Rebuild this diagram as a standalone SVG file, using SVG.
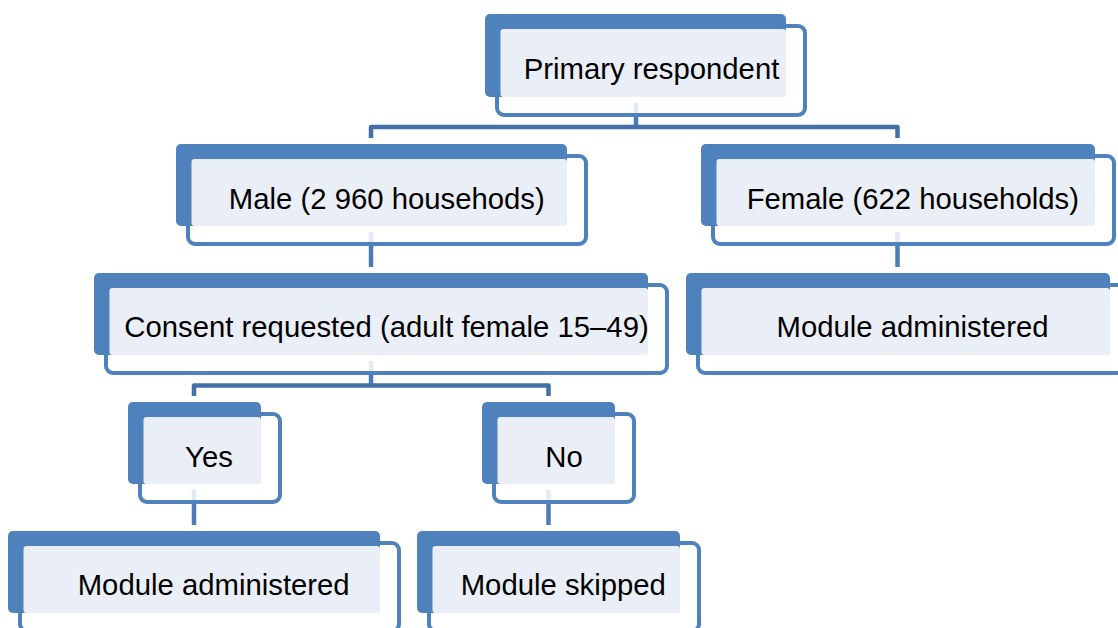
<svg xmlns="http://www.w3.org/2000/svg" width="1118" height="628" viewBox="0 0 1118 628">
  <style>
    .frame { fill: #ffffff; fill-opacity: 0.84; stroke: #4F81BD; stroke-width: 4; }
    .back { fill: #4F81BD; }
    .inner { fill: #EAEFF7; }
    .label { font-family: "Liberation Sans", Arial, sans-serif; font-size: 29.3px; fill: #000000; text-anchor: middle; }
    .bar { fill: none; stroke: #4470A6; stroke-width: 4.5; stroke-linejoin: round; }
    .vline { fill: none; stroke: #4B7CB6; stroke-width: 4.5; }
  </style>
  <rect width="1118" height="628" fill="#ffffff"/>
  <g id="connectors">
    <path class="vline" d="M636,103 V127"/>
    <path class="bar" d="M371,138 V127 H897.5 V138"/>
    <path class="vline" d="M371,232 V267"/>
    <path class="vline" d="M897.5,232 V267"/>
    <path class="vline" d="M371,361 V385.5"/>
    <path class="bar" d="M194,396 V385.5 H548.5 V396"/>
    <path class="vline" d="M194,490 V525"/>
    <path class="vline" d="M548.5,490 V525"/>
  </g>
  <g id="node-primary">
    <rect class="frame" x="497" y="26" width="308" height="89" rx="7"/>
    <rect class="back" x="485" y="14" width="301" height="83" rx="5"/>
    <rect class="inner" x="500.5" y="29" width="285.5" height="68" rx="3"/>
    <text class="label" x="651.5" y="79">Primary respondent</text>
  </g>
  <g id="node-male">
    <rect class="frame" x="188" y="156" width="398" height="88" rx="7"/>
    <rect class="back" x="176" y="144" width="391" height="82" rx="5"/>
    <rect class="inner" x="191.5" y="159" width="375.5" height="67" rx="3"/>
    <text class="label" x="386.8" y="209">Male (2 960 househods)</text>
  </g>
  <g id="node-female">
    <rect class="frame" x="713" y="156" width="401" height="88" rx="7"/>
    <rect class="back" x="701" y="144" width="394" height="82" rx="5"/>
    <rect class="inner" x="716.5" y="159" width="378.5" height="67" rx="3"/>
    <text class="label" x="912.8" y="209">Female (622 households)</text>
  </g>
  <g id="node-consent">
    <rect class="frame" x="106" y="285" width="561" height="88" rx="7"/>
    <rect class="back" x="94" y="273" width="554" height="82" rx="5"/>
    <rect class="inner" x="109.5" y="288" width="538.5" height="67" rx="3"/>
    <text class="label" x="386.5" y="337">Consent requested (adult female 15–49)</text>
  </g>
  <g id="node-female-module">
    <rect class="frame" x="698" y="285" width="431" height="88" rx="7"/>
    <rect class="back" x="686" y="273" width="424" height="82" rx="5"/>
    <rect class="inner" x="701.5" y="288" width="408.5" height="67" rx="3"/>
    <text class="label" x="912.5" y="337">Module administered</text>
  </g>
  <g id="node-yes">
    <rect class="frame" x="140" y="414" width="140" height="88" rx="7"/>
    <rect class="back" x="128" y="402" width="133" height="82" rx="5"/>
    <rect class="inner" x="143.5" y="417" width="117.5" height="67" rx="3"/>
    <text class="label" x="209" y="467">Yes</text>
  </g>
  <g id="node-no">
    <rect class="frame" x="494" y="414" width="140" height="88" rx="7"/>
    <rect class="back" x="482" y="402" width="133" height="82" rx="5"/>
    <rect class="inner" x="497.5" y="417" width="117.5" height="67" rx="3"/>
    <text class="label" x="564" y="467">No</text>
  </g>
  <g id="node-yes-module">
    <rect class="frame" x="20" y="543" width="379" height="88" rx="7"/>
    <rect class="back" x="8" y="531" width="372" height="82" rx="5"/>
    <rect class="inner" x="23.5" y="546" width="356.5" height="67" rx="3"/>
    <text class="label" x="213.7" y="595">Module administered</text>
  </g>
  <g id="node-no-module">
    <rect class="frame" x="429" y="543" width="270" height="88" rx="7"/>
    <rect class="back" x="417" y="531" width="263" height="82" rx="5"/>
    <rect class="inner" x="432.5" y="546" width="247.5" height="67" rx="3"/>
    <text class="label" x="563.3" y="595">Module skipped</text>
  </g>
</svg>
